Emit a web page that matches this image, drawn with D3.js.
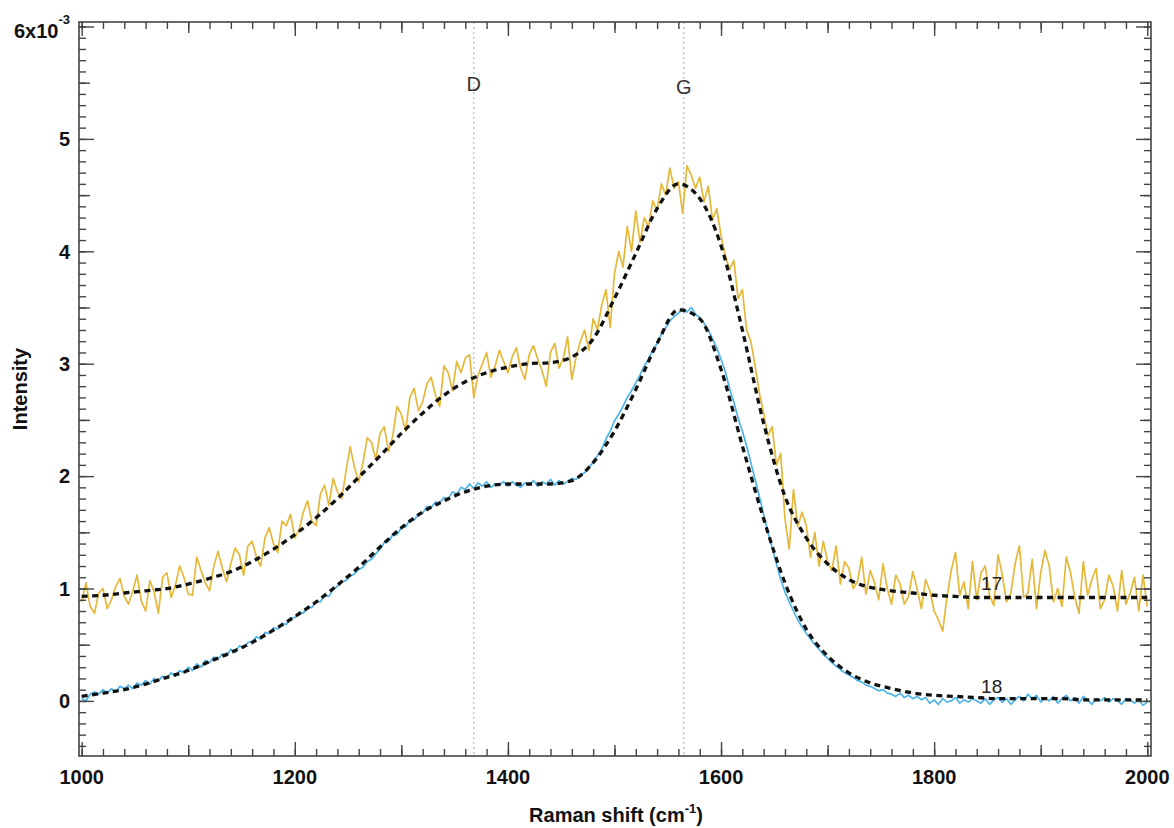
<!DOCTYPE html>
<html>
<head>
<meta charset="utf-8">
<script src="https://cdn.jsdelivr.net/npm/d3@7"></script>
<style>
  html, body { margin: 0; padding: 0; background: #fff; }
  svg { display: block; font-family: "Liberation Sans", Arial, Helvetica, sans-serif; }
</style>
</head>
<body>
<svg id="chart" width="1174" height="828"></svg>
<script>
// ---------------- data ----------------
// Raman shift grid of the measured spectra (cm-1), 4 cm-1 steps
const shiftStart = 1000, shiftStep = 4;

// sample 17 (gold), measured intensity (x10^-3)
const spectrum17 = [
  0.88, 1.05, 0.84, 0.78, 0.96, 1.00, 0.82, 0.90, 1.02, 1.09,
  0.93, 0.86, 0.98, 1.12, 0.89, 0.80, 1.07, 0.97, 0.78, 1.10,
  1.14, 0.92, 1.03, 1.20, 1.10, 0.95, 0.94, 1.28, 1.16, 1.05,
  0.98, 1.20, 1.33, 1.18, 1.06, 1.22, 1.36, 1.30, 1.12, 1.38,
  1.42, 1.28, 1.20, 1.45, 1.54, 1.40, 1.32, 1.60, 1.56, 1.66,
  1.45, 1.52, 1.68, 1.78, 1.60, 1.56, 1.84, 1.92, 1.74, 1.98,
  1.86, 1.80, 2.04, 2.26, 2.08, 1.95, 2.12, 2.34, 2.30, 2.15,
  2.38, 2.44, 2.22, 2.36, 2.62, 2.55, 2.40, 2.70, 2.78, 2.58,
  2.66, 2.82, 2.88, 2.72, 2.62, 2.98, 2.92, 2.76, 3.02, 2.92,
  3.05, 3.08, 2.70, 2.90, 3.00, 3.10, 2.88, 2.98, 3.12, 3.02,
  2.92, 3.06, 3.14, 2.96, 2.86, 3.08, 3.16, 3.04, 2.94, 2.80,
  3.10, 3.18, 2.96, 3.05, 3.24, 2.86, 3.06, 3.20, 3.30, 3.12,
  3.40, 3.30, 3.52, 3.66, 3.32, 3.80, 4.00, 3.86, 4.22, 4.00,
  4.36, 4.08, 4.30, 4.22, 4.45, 4.36, 4.60, 4.50, 4.74, 4.56,
  4.62, 4.34, 4.76, 4.68, 4.56, 4.66, 4.44, 4.58, 4.28, 4.38,
  4.14, 3.96, 3.84, 3.92, 3.58, 3.66, 3.30, 3.20, 2.98, 2.74,
  2.56, 2.36, 2.44, 2.10, 2.20, 1.62, 1.35, 1.88, 1.55, 1.68,
  1.56, 1.28, 1.50, 1.20, 1.42, 1.24, 1.16, 1.38, 1.04, 1.24,
  1.18, 1.00, 1.06, 1.28, 0.95, 1.16, 1.05, 0.90, 1.22, 1.00,
  0.86, 1.12, 1.04, 0.86, 0.93, 1.15, 1.00, 0.82, 1.08, 0.98,
  0.80, 0.72, 0.62, 0.92, 1.16, 1.32, 0.94, 1.06, 0.82, 1.24,
  0.90, 1.14, 1.20, 0.94, 0.85, 1.30, 1.12, 0.88, 0.96, 1.22,
  1.38, 0.92, 0.96, 1.26, 0.82, 1.14, 1.34, 1.20, 0.88, 1.00,
  0.84, 1.28, 1.14, 0.92, 0.78, 1.24, 0.94, 1.08, 1.18, 0.82,
  0.90, 1.12, 1.02, 0.80, 1.16, 0.86, 0.96, 1.10, 0.80, 1.12,
  0.84
];

// sample 18 (blue), measured intensity (x10^-3)
const spectrum18 = [
  0.02, 0.00, 0.06, 0.08, 0.06, 0.10, 0.07, 0.11, 0.08, 0.13,
  0.11, 0.14, 0.11, 0.16, 0.14, 0.18, 0.15, 0.20, 0.18, 0.22,
  0.20, 0.25, 0.22, 0.27, 0.25, 0.30, 0.27, 0.33, 0.30, 0.36,
  0.34, 0.39, 0.37, 0.42, 0.40, 0.46, 0.43, 0.49, 0.47, 0.52,
  0.53, 0.57, 0.55, 0.61, 0.60, 0.65, 0.64, 0.69, 0.68, 0.74,
  0.74, 0.79, 0.78, 0.84, 0.83, 0.89, 0.88, 0.94, 0.93, 0.99,
  1.02, 1.06, 1.07, 1.11, 1.13, 1.17, 1.19, 1.24, 1.26, 1.31,
  1.35, 1.41, 1.42, 1.48, 1.48, 1.54, 1.55, 1.61, 1.61, 1.66,
  1.67, 1.73, 1.72, 1.77, 1.76, 1.81, 1.80, 1.86, 1.84, 1.90,
  1.88, 1.93, 1.89, 1.94, 1.91, 1.95, 1.90, 1.93, 1.92, 1.95,
  1.91, 1.95, 1.92, 1.90, 1.94, 1.92, 1.96, 1.91, 1.95, 1.93,
  1.97, 1.92, 1.96, 1.93, 1.95, 1.98, 1.97, 2.01, 2.03, 2.08,
  2.12, 2.18, 2.24, 2.33, 2.40, 2.49, 2.55, 2.62, 2.70, 2.76,
  2.83, 2.90, 2.98, 3.04, 3.12, 3.18, 3.26, 3.32, 3.38, 3.42,
  3.45, 3.49, 3.46, 3.50, 3.44, 3.41, 3.36, 3.30, 3.22, 3.14,
  3.04, 2.93, 2.78, 2.66, 2.52, 2.40, 2.27, 2.12, 1.97, 1.82,
  1.66, 1.50, 1.36, 1.22, 1.08, 0.97, 0.88, 0.80, 0.72, 0.66,
  0.60, 0.55, 0.50, 0.46, 0.41, 0.38, 0.34, 0.31, 0.28, 0.25,
  0.23, 0.21, 0.18, 0.17, 0.14, 0.13, 0.11, 0.09, 0.10, 0.07,
  0.06, 0.04, 0.07, 0.03, 0.05, 0.02, 0.04, 0.01, 0.03, -0.02,
  0.01, -0.03, 0.02, -0.01, 0.00, 0.03, -0.02, 0.01, -0.01, 0.02,
  0.00, -0.02, 0.02, -0.03, 0.01, 0.03, -0.01, 0.02, -0.03, 0.01,
  0.04, 0.00, 0.06, 0.02, 0.05, -0.01, 0.03, 0.00, 0.04, -0.02,
  0.02, 0.05, 0.00, 0.03, -0.02, 0.04, 0.01, -0.03, 0.02, 0.00,
  0.03, -0.01, 0.02, 0.00, -0.03, 0.02, 0.01, -0.02, 0.01, -0.04,
  -0.01
];

// fitted curves, sampled every 20 cm-1
const fitStart = 1000, fitStep = 20;
const fit17 = [
  0.93, 0.94, 0.96, 0.98, 1.00, 1.04, 1.09, 1.15, 1.24, 1.35,
  1.48, 1.63, 1.80, 1.99, 2.18, 2.38, 2.56, 2.72, 2.84, 2.92,
  2.97, 3.00, 3.01, 3.06, 3.22, 3.58, 3.98, 4.38, 4.60, 4.47,
  4.05, 3.30, 2.47, 1.82, 1.45, 1.22, 1.08, 1.01, 0.98, 0.96,
  0.94, 0.93, 0.92, 0.92, 0.92, 0.92, 0.92, 0.92, 0.92, 0.92,
  0.92
];
const fit18 = [
  0.04, 0.07, 0.10, 0.15, 0.21, 0.27, 0.35, 0.43, 0.52, 0.63,
  0.75, 0.88, 1.03, 1.19, 1.37, 1.54, 1.68, 1.78, 1.86, 1.91,
  1.93, 1.93, 1.93, 1.96, 2.12, 2.40, 2.77, 3.18, 3.48, 3.40,
  2.95, 2.27, 1.62, 1.05, 0.64, 0.40, 0.25, 0.16, 0.11, 0.07,
  0.05, 0.04, 0.03, 0.02, 0.02, 0.02, 0.02, 0.01, 0.01, 0.01,
  0.01
];

const seriesLabels = ["17", "18"];
const labelShift = 1854;          // where the sample labels sit (cm-1)
const labelLevel = [0.99, 0.07];  // their baselines (x10^-3)

const bandNames = ["D", "G"];
const bandShifts = [1368, 1565];

const xTickLabels = [1000, 1200, 1400, 1600, 1800, 2000];
const yTickLabels = [0, 1, 2, 3, 4, 5];

// ---------------- chart ----------------
const L = 79, R = 1151, T = 22, B = 756;
const svg = d3.select("#chart");

const x = d3.scaleLinear().domain([997.5, 2003.5]).range([L, R]);
const y = d3.scaleLinear().domain([-0.49, 6.04]).range([B, T]);

const toPts = (arr, start, step) => arr.map((v, i) => [start + i * step, v]);

svg.append("defs").append("clipPath").attr("id", "clip")
  .append("rect").attr("x", L).attr("y", T).attr("width", R - L).attr("height", B - T);

// band marker lines
const bands = svg.append("g");
bandShifts.forEach((s, i) => {
  bands.append("line")
    .attr("x1", x(s)).attr("x2", x(s)).attr("y1", T).attr("y2", B)
    .attr("stroke", "#b5b5b5").attr("stroke-width", 1.2).attr("stroke-dasharray", "2,3");
  bands.append("text")
    .attr("x", x(s)).attr("y", i === 0 ? 91 : 94)
    .attr("text-anchor", "middle").attr("font-size", 20).attr("fill", "#333")
    .text(bandNames[i]);
});

const plot = svg.append("g").attr("clip-path", "url(#clip)");
const lineRaw = d3.line().x(d => x(d[0])).y(d => y(d[1]));
const lineFit = d3.line().x(d => x(d[0])).y(d => y(d[1])).curve(d3.curveMonotoneX);

plot.append("path").datum(toPts(spectrum17, shiftStart, shiftStep))
  .attr("d", lineRaw).attr("fill", "none").attr("stroke", "#E5B83A").attr("stroke-width", 1.7)
  .attr("stroke-linejoin", "round");
plot.append("path").datum(toPts(spectrum18, shiftStart, shiftStep))
  .attr("d", lineRaw).attr("fill", "none").attr("stroke", "#4DB4EA").attr("stroke-width", 1.7)
  .attr("stroke-linejoin", "round");

[fit17, fit18].forEach(f => {
  plot.append("path").datum(toPts(f, fitStart, fitStep))
    .attr("d", lineFit).attr("fill", "none").attr("stroke", "#111")
    .attr("stroke-width", 3.3).attr("stroke-dasharray", "6,4.5");
});

// sample labels
seriesLabels.forEach((t, i) => {
  svg.append("text")
    .attr("x", x(labelShift)).attr("y", y(labelLevel[i]))
    .attr("text-anchor", "middle").attr("font-size", 19).attr("fill", "#222")
    .text(t);
});

// ---------------- axes (inward ticks on all four sides) ----------------
const xMinor = d3.range(1000, 2001, 20);
const xMid = d3.range(1100, 2000, 200);
const yMinor = d3.range(-4, 61).map(v => v / 10);
const yMid = d3.range(0, 6).map(v => v + 0.5);

function ticksX(vals, len, g, yPos, dir) {
  g.append("g").attr("transform", `translate(0,${yPos})`)
    .call((dir > 0 ? d3.axisBottom(x) : d3.axisTop(x)).tickValues(vals).tickSize(-len).tickFormat(""))
    .call(a => a.select(".domain").remove())
    .selectAll("line").attr("stroke", "#444").attr("stroke-width", 1.4);
}
function ticksY(vals, len, g, xPos, dir) {
  g.append("g").attr("transform", `translate(${xPos},0)`)
    .call((dir < 0 ? d3.axisLeft(y) : d3.axisRight(y)).tickValues(vals).tickSize(-len).tickFormat(""))
    .call(a => a.select(".domain").remove())
    .selectAll("line").attr("stroke", "#444").attr("stroke-width", 1.4);
}
const axes = svg.append("g");
[[B, 1], [T, -1]].forEach(([p, d]) => {
  ticksX(xMinor, 7, axes, p, d);
  ticksX(xMid, 11, axes, p, d);
  ticksX(xTickLabels, 14, axes, p, d);
});
[[L, -1], [R, 1]].forEach(([p, d]) => {
  ticksY(yMinor, 7, axes, p, d);
  ticksY(yMid, 11, axes, p, d);
  ticksY(yTickLabels.concat([6]), 15, axes, p, d);
});

axes.append("rect").attr("x", L).attr("y", T).attr("width", R - L).attr("height", B - T)
  .attr("fill", "none").attr("stroke", "#444").attr("stroke-width", 1.6);

// tick labels
xTickLabels.forEach(v => {
  svg.append("text").attr("x", x(v)).attr("y", 784)
    .attr("text-anchor", "middle").attr("font-size", 20).attr("font-weight", "bold").attr("fill", "#111")
    .text(v);
});
yTickLabels.forEach(v => {
  svg.append("text").attr("x", 70).attr("y", y(v)).attr("dy", "0.36em")
    .attr("text-anchor", "end").attr("font-size", 20).attr("font-weight", "bold").attr("fill", "#111")
    .text(v);
});
const topLab = svg.append("text").attr("x", 70).attr("y", 38)
  .attr("text-anchor", "end").attr("font-size", 20).attr("font-weight", "bold").attr("fill", "#111");
topLab.append("tspan").text("6x10");
topLab.append("tspan").attr("font-size", 13).attr("dy", -14).text("-3");

// axis titles
const xt = svg.append("text").attr("x", 616).attr("y", 822)
  .attr("text-anchor", "middle").attr("font-size", 20).attr("font-weight", "bold").attr("fill", "#111");
xt.append("tspan").text("Raman shift (cm");
xt.append("tspan").attr("font-size", 13).attr("dy", -9).text("-1");
xt.append("tspan").attr("dy", 9).text(")");

svg.append("text").attr("transform", "translate(27,389) rotate(-90)")
  .attr("text-anchor", "middle").attr("font-size", 20).attr("font-weight", "bold").attr("fill", "#111")
  .text("Intensity");
</script>
</body>
</html>
